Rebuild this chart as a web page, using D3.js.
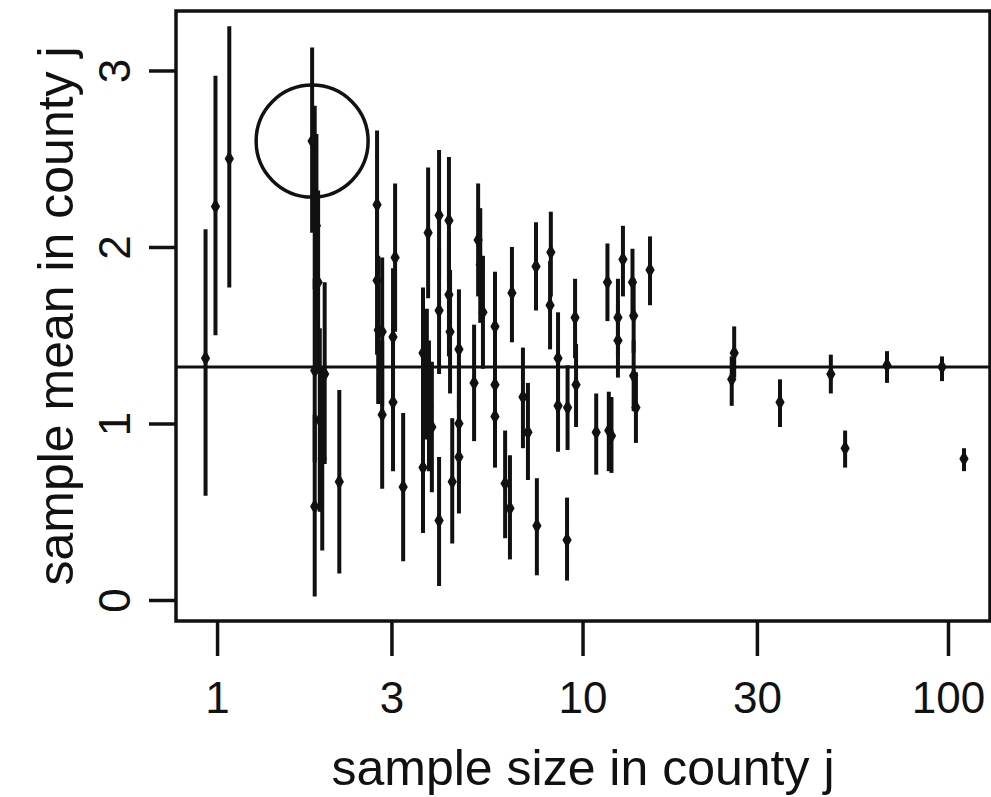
<!DOCTYPE html>
<html>
<head>
<meta charset="utf-8">
<script src="https://cdn.jsdelivr.net/npm/d3@7"></script>
<style>
    body { margin: 0; background: #fff; }
    text { font-family: "Liberation Sans", Arial, sans-serif; fill: #111; }
</style>
</head>
<body>
<div id="chart"></div>
<script>
// sample size in county j (jittered)
let sampleSizes = [0.93, 0.99, 1.08,
    1.82, 1.85, 1.87, 1.89, 1.97, 1.85, 1.91, 1.94, 1.85, 2.16,
    2.74, 2.74, 2.76, 2.83, 2.83, 3.07, 3.03, 3.03, 3.23,
    3.66, 3.66, 3.78, 3.75, 3.87, 3.80, 4.05, 4.05, 4.05, 4.31, 4.31, 4.40, 4.34, 4.59, 4.59, 4.59,
    5.05, 5.18, 5.25, 5.34, 5.76, 5.76, 5.76, 6.14, 6.33, 6.41,
    6.87, 7.09, 7.46, 7.50, 8.19, 8.15, 8.57, 8.57, 9.07, 9.10, 9.54, 9.60,
    10.9, 11.7, 11.8, 12.0, 12.5, 12.5, 12.9, 13.7, 13.8, 13.8, 14.0, 15.3,
    26.0, 25.6, 34.7, 47.8, 52.3, 68.1, 96.3, 110.6];

// sample mean in county j
let sampleMeans = [1.37, 2.23, 2.50,
    2.60, 2.28, 2.12, 1.80, 1.28, 1.30, 1.02, 0.80, 0.53, 0.67,
    2.24, 1.81, 1.53, 1.52, 1.05, 1.94, 1.49, 1.12, 0.64,
    1.40, 0.75, 2.08, 1.28, 0.98, 1.10, 2.18, 1.64, 0.45, 2.15, 1.73, 0.67, 1.52, 1.42, 1.00, 0.81,
    1.23, 2.04, 1.90, 1.63, 1.55, 1.22, 1.04, 0.66, 0.52, 1.74,
    1.15, 0.95, 1.89, 0.42, 1.97, 1.67, 1.37, 1.10, 0.34, 1.09, 1.60, 1.22,
    0.95, 1.80, 0.96, 0.93, 1.60, 1.47, 1.93, 1.80, 1.61, 1.27, 1.09, 1.87,
    1.40, 1.25, 1.12, 1.28, 0.86, 1.33, 1.32, 0.80];

// lower end of each error bar
let lowerEnds = [0.59, 1.50, 1.77,
    2.08, 1.76, 1.60, 1.28, 0.77, 0.78, 0.50, 0.28, 0.02, 0.15,
    1.82, 1.39, 1.11, 1.10, 0.63, 1.52, 1.10, 0.73, 0.22,
    1.03, 0.38, 1.71, 0.91, 0.61, 0.73, 1.82, 1.28, 0.08, 1.80, 1.38, 0.32, 1.17, 1.08, 0.66, 0.49,
    0.90, 1.72, 1.57, 1.31, 1.24, 0.92, 0.75, 0.35, 0.23, 1.46,
    0.86, 0.68, 1.64, 0.14, 1.72, 1.42, 1.12, 0.84, 0.11, 0.85, 1.37, 0.98,
    0.71, 1.58, 0.73, 0.72, 1.38, 1.26, 1.72, 1.59, 1.40, 1.07, 0.89, 1.67,
    1.26, 1.10, 0.98, 1.17, 0.75, 1.23, 1.24, 0.73];

// upper end of each error bar
let upperEnds = [2.10, 2.97, 3.25,
    3.13, 2.80, 2.64, 2.32, 1.80, 1.82, 1.54, 1.32, 1.05, 1.19,
    2.66, 2.23, 1.95, 1.94, 1.47, 2.36, 1.88, 1.51, 1.06,
    1.77, 1.12, 2.45, 1.65, 1.35, 1.47, 2.55, 2.00, 0.81, 2.51, 2.08, 1.03, 1.87, 1.76, 1.34, 1.14,
    1.56, 2.36, 2.22, 1.95, 1.86, 1.52, 1.35, 0.96, 0.82, 2.00,
    1.43, 1.23, 2.14, 0.69, 2.20, 1.92, 1.63, 1.36, 0.58, 1.33, 1.82, 1.45,
    1.17, 2.02, 1.18, 1.15, 1.82, 1.68, 2.12, 1.99, 1.82, 1.47, 1.29, 2.06,
    1.55, 1.38, 1.25, 1.39, 0.96, 1.41, 1.38, 0.86];

let grandMean = 1.32;
let circledCounty = 3;   // the county with n = 2 that is circled

let xTicks = [1, 3, 10, 30, 100];
let yTicks = [0, 1, 2, 3];

class countyMeansViz {
    constructor(parentElement) {
        this.parentElement = parentElement;
        this.initVis();
    }

    initVis() {
        let vis = this;

        vis.margin = {top: 11, right: 1, bottom: 176, left: 176};
        vis.width = 991 - vis.margin.left - vis.margin.right;
        vis.height = 797 - vis.margin.top - vis.margin.bottom;

        vis.svg = d3.select("#" + vis.parentElement).append("svg")
            .attr("width", 991)
            .attr("height", 797)
            .append("g")
            .attr("transform", "translate(" + vis.margin.left + "," + vis.margin.top + ")");

        vis.x = d3.scaleLog()
            .domain([0.772, 130.3])
            .range([0, vis.width]);

        vis.y = d3.scaleLinear()
            .domain([-0.119, 3.337])
            .range([vis.height, 0]);

        vis.wrangleData();
    }

    wrangleData() {
        let vis = this;
        vis.displayData = sampleSizes.map((n, i) => {
            return {n: n, mean: sampleMeans[i], lo: lowerEnds[i], hi: upperEnds[i]};
        });
        vis.updateVis();
    }

    updateVis() {
        let vis = this;

        // frame
        vis.svg.append("rect")
            .attr("width", vis.width)
            .attr("height", vis.height)
            .attr("fill", "none")
            .attr("stroke", "#111")
            .attr("stroke-width", 3.5);

        // x axis: long ticks below the frame
        let xAxis = d3.axisBottom(vis.x)
            .tickValues(xTicks)
            .tickFormat(d3.format("d"))
            .tickSize(35)
            .tickPadding(26);

        vis.svg.append("g")
            .attr("class", "x-axis")
            .attr("transform", "translate(0," + vis.height + ")")
            .call(xAxis)
            .call(g => g.select(".domain").remove())
            .call(g => g.selectAll("line").attr("stroke", "#111").attr("stroke-width", 3.5))
            .call(g => g.selectAll("text").attr("font-size", 44).attr("fill", "#111"));

        // y axis: ticks to the left, labels turned on their side
        let yAxis = d3.axisLeft(vis.y)
            .tickValues(yTicks)
            .tickFormat(d3.format("d"))
            .tickSize(27)
            .tickPadding(0);

        vis.svg.append("g")
            .attr("class", "y-axis")
            .call(yAxis)
            .call(g => g.select(".domain").remove())
            .call(g => g.selectAll("line").attr("stroke", "#111").attr("stroke-width", 3.5))
            .call(g => g.selectAll("text")
                .attr("x", null)
                .attr("dy", null)
                .attr("font-size", 44)
                .attr("fill", "#111")
                .attr("text-anchor", "middle")
                .attr("transform", "translate(-46,0) rotate(-90)"));

        // overall mean
        vis.svg.append("line")
            .attr("x1", 0)
            .attr("x2", vis.width)
            .attr("y1", vis.y(grandMean))
            .attr("y2", vis.y(grandMean))
            .attr("stroke", "#111")
            .attr("stroke-width", 3);

        // error bars
        vis.svg.selectAll(".bar")
            .data(vis.displayData)
            .enter().append("line")
            .attr("class", "bar")
            .attr("x1", d => vis.x(d.n))
            .attr("x2", d => vis.x(d.n))
            .attr("y1", d => vis.y(d.lo))
            .attr("y2", d => vis.y(d.hi))
            .attr("stroke", "#111")
            .attr("stroke-width", 4);

        // county means
        vis.svg.selectAll(".mean")
            .data(vis.displayData)
            .enter().append("path")
            .attr("class", "mean")
            .attr("d", d3.symbol().type(d3.symbolDiamond).size(75))
            .attr("transform", d => "translate(" + vis.x(d.n) + "," + vis.y(d.mean) + ")")
            .attr("fill", "#111");

        // circled county
        let c = vis.displayData[circledCounty];
        vis.svg.append("circle")
            .attr("cx", vis.x(c.n))
            .attr("cy", vis.y(c.mean))
            .attr("r", 56)
            .attr("fill", "none")
            .attr("stroke", "#111")
            .attr("stroke-width", 3.5);

        // axis titles
        vis.svg.append("text")
            .text("sample size in county j")
            .attr("x", vis.width / 2)
            .attr("y", vis.height + 164)
            .attr("text-anchor", "middle")
            .attr("font-size", 50);

        vis.svg.append("text")
            .text("sample mean in county j")
            .attr("text-anchor", "middle")
            .attr("font-size", 50)
            .attr("transform", "translate(-103," + (vis.height / 2) + ") rotate(-90)");
    }
}

let countyViz = new countyMeansViz("chart");
</script>
</body>
</html>
